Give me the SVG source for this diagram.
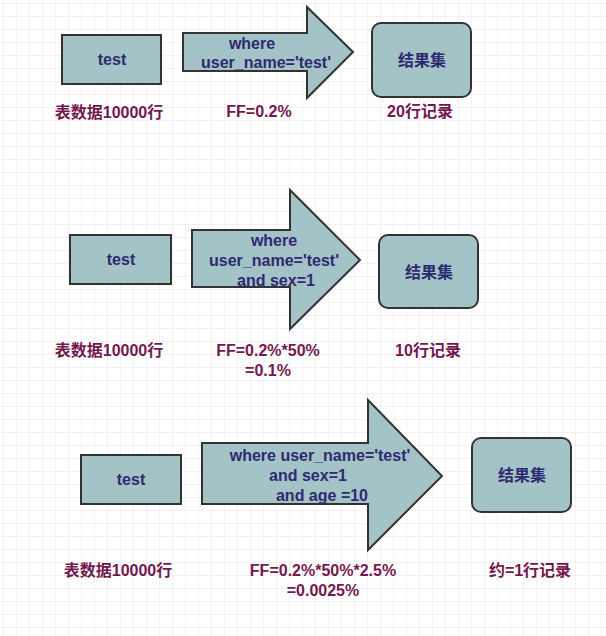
<svg xmlns="http://www.w3.org/2000/svg" width="606" height="636" viewBox="0 0 606 636">
<defs>
<pattern id="g" width="13" height="13" patternUnits="userSpaceOnUse" x="4" y="4"><path d="M13 0V13M0 13H13" fill="none" stroke="#e2e2ee" stroke-width="1"/></pattern>
<style>
.n{fill:#a3c3c6;stroke:#333;stroke-width:2}
.t{font-family:"Liberation Sans","Noto Sans CJK SC",sans-serif;font-weight:bold;font-size:16px;fill:#2e2a72;text-anchor:middle}
.l{font-family:"Liberation Sans","Noto Sans CJK SC",sans-serif;font-weight:bold;font-size:16px;fill:#73194e;text-anchor:middle}
</style>
</defs>
<rect width="606" height="636" fill="#fff"/>
<rect width="606" height="636" fill="url(#g)"/>
<g id="conn">
<polygon id="a1" class="n" points="183,33 307,33 307,7 353,52 307,98 307,71 183,71"/>
<polygon id="a2" class="n" points="192,230 290,230 290,190 360,260 290,329 290,287 192,287"/>
<polygon id="a3" class="n" points="202,443 368,443 368,400 442,476 368,550 368,504 202,504"/>
</g>
<g class="t">
<text x="252" y="49">where</text><text x="266" y="68">user_name='test'</text>
<text x="274" y="246">where</text><text x="274" y="266">user_name='test'</text><text x="276" y="286">and sex=1</text>
<text x="320" y="461">where user_name='test'</text><text x="308" y="481">and sex=1</text><text x="322" y="501">and age =10</text>
</g>
<g id="n1"><rect class="n" x="62" y="35" width="99" height="49"/><text class="t" x="112" y="65">test</text></g>
<g id="r1"><rect class="n" x="372" y="23" width="99" height="74" rx="9"/><text class="t" x="422" y="66">结果集</text></g>
<g id="n2"><rect class="n" x="70" y="235" width="101" height="49"/><text class="t" x="121" y="265">test</text></g>
<g id="r2"><rect class="n" x="379" y="235" width="99" height="73" rx="9"/><text class="t" x="429" y="278">结果集</text></g>
<g id="n3"><rect class="n" x="81" y="455" width="100" height="49"/><text class="t" x="131" y="485">test</text></g>
<g id="r3"><rect class="n" x="472" y="438" width="99" height="74" rx="9"/><text class="t" x="522" y="481">结果集</text></g>
<g class="l">
<text x="109" y="118">表数据10000行</text><text x="259" y="117">FF=0.2%</text><text x="420" y="117">20行记录</text>
<text x="109" y="356">表数据10000行</text><text x="268" y="356">FF=0.2%*50%</text><text x="268" y="376">=0.1%</text><text x="428" y="356">10行记录</text>
<text x="118" y="576">表数据10000行</text><text x="323" y="576">FF=0.2%*50%*2.5%</text><text x="323" y="596">=0.0025%</text><text x="530" y="576">约=1行记录</text>
</g>
</svg>
